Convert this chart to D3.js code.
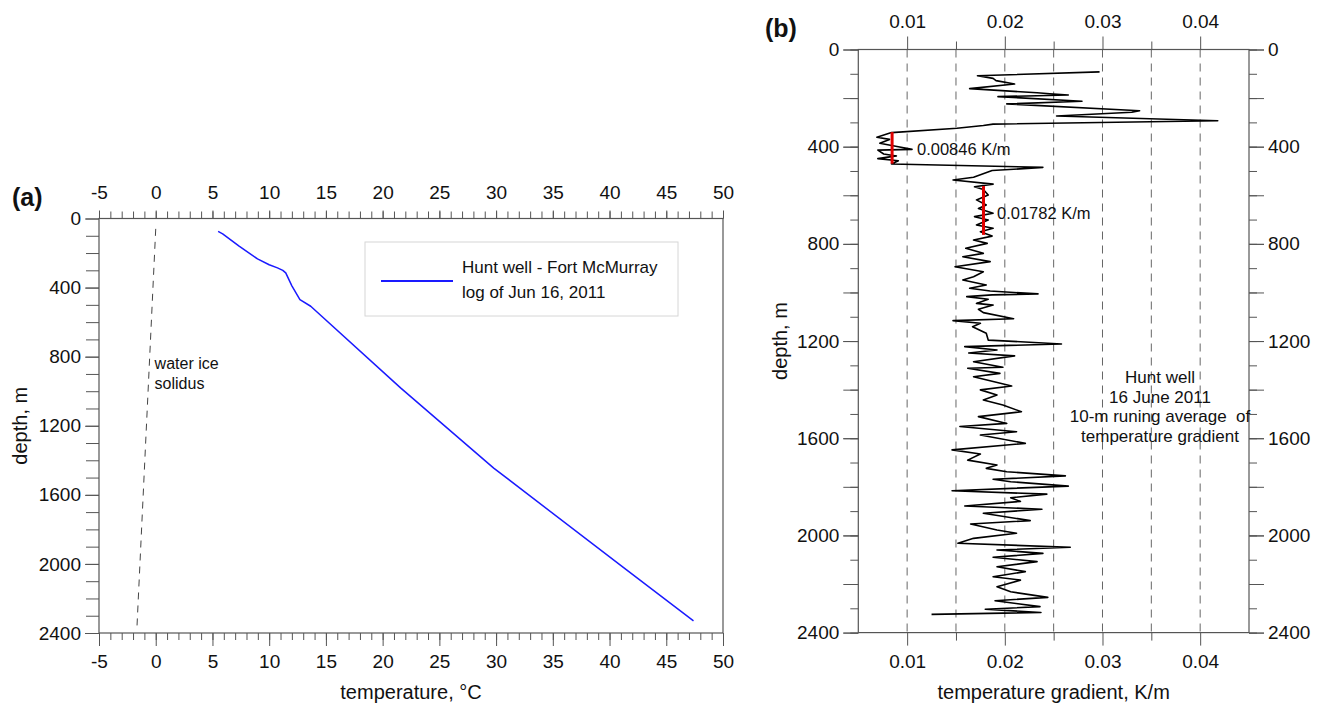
<!DOCTYPE html>
<html>
<head>
<meta charset="utf-8">
<script src="https://cdn.jsdelivr.net/npm/d3@7"></script>
<style>
  body { margin: 0; background: #fff; }
  svg { font-family: "Liberation Sans", Arial, sans-serif; }
</style>
</head>
<body>
<div id="viz"></div>
<script>

// ---- data ----
// panel (a): temperature log (°C) vs depth (m)
let tempC      = [5.5, 5.9, 7.35, 8.97, 10.0, 10.73, 11.2, 11.46, 12.0, 12.71, 13.66, 21.58, 29.79, 41.5, 47.4]
let tempDepthM = [75, 89, 160, 234, 268, 286, 300, 315, 390, 470, 508, 981, 1445, 2035, 2330]

// water ice solidus
let solidusC      = [0, -1.65]
let solidusDepthM = [60, 2360]

// panel (b): 10-m running average of temperature gradient (K/m) vs depth (m)
let gradDepthM = [92, 108, 119, 128, 142, 161, 178, 182, 187, 194, 213, 224, 252, 258, 274, 293, 307, 313, 324, 342,
  361, 370, 386, 400, 411, 414, 430, 438, 449, 458, 471, 485, 493, 498, 526, 537, 554, 565, 576, 599,
  619, 640, 654, 674, 688, 702, 722, 736, 750, 768, 784, 798, 818, 839, 853, 873, 894, 915, 935, 949,
  969, 983, 994, 1006, 1010, 1017, 1028, 1045, 1052, 1069, 1083, 1108, 1116, 1127, 1141, 1168, 1196, 1212, 1223, 1237,
  1249, 1261, 1285, 1308, 1312, 1333, 1347, 1385, 1401, 1422, 1443, 1463, 1491, 1511, 1539, 1552, 1573, 1587, 1621, 1648,
  1665, 1690, 1710, 1724, 1738, 1755, 1769, 1779, 1797, 1816, 1830, 1845, 1860, 1879, 1892, 1909, 1939, 1953, 1978, 1991,
  2012, 2032, 2049, 2060, 2074, 2090, 2108, 2129, 2149, 2170, 2184, 2211, 2232, 2255, 2269, 2293, 2304, 2317, 2325]
let gradKm = [0.0297, 0.0172, 0.0188, 0.0191, 0.0210, 0.0164, 0.0233, 0.0246, 0.0265, 0.0193, 0.0279, 0.0202, 0.0338, 0.0330, 0.0253, 0.0418, 0.0188, 0.0178, 0.0151, 0.0084,
  0.0069, 0.0082, 0.0072, 0.0091, 0.0105, 0.0070, 0.0076, 0.0089, 0.0070, 0.0091, 0.0084, 0.0239, 0.0209, 0.0187, 0.0168, 0.0147, 0.0188, 0.0169, 0.0178, 0.0183,
  0.0171, 0.0181, 0.0173, 0.0188, 0.0169, 0.0183, 0.0171, 0.0188, 0.0175, 0.0187, 0.0168, 0.0182, 0.0160, 0.0178, 0.0157, 0.0185, 0.0149, 0.0178, 0.0168, 0.0157,
  0.0181, 0.0164, 0.0185, 0.0234, 0.0187, 0.0161, 0.0183, 0.0171, 0.0188, 0.0173, 0.0178, 0.0209, 0.0147, 0.0175, 0.0167, 0.0181, 0.0183, 0.0258, 0.0159, 0.0192,
  0.0163, 0.0210, 0.0168, 0.0198, 0.0162, 0.0195, 0.0168, 0.0207, 0.0175, 0.0192, 0.0178, 0.0198, 0.0217, 0.0173, 0.0202, 0.0154, 0.0212, 0.0175, 0.0221, 0.0146,
  0.0175, 0.0162, 0.0192, 0.0181, 0.0202, 0.0262, 0.0188, 0.0206, 0.0265, 0.0146, 0.0243, 0.0206, 0.0216, 0.0159, 0.0238, 0.0178, 0.0226, 0.0165, 0.0192, 0.0212,
  0.0168, 0.0152, 0.0267, 0.0192, 0.0239, 0.0188, 0.0233, 0.0192, 0.0221, 0.0188, 0.0216, 0.0192, 0.0206, 0.0244, 0.0190, 0.0236, 0.0180, 0.0237, 0.0125]

// linear fits (red bars)
let fitGrad   = [0.00846, 0.01782]
let fitTopM   = [340, 562]
let fitBaseM  = [470, 763]
let fitLabels = ['0.00846 K/m', '0.01782 K/m']

// ticks
let tempTicks      = d3.range(-5, 51, 5)
let tempMinorTicks = d3.range(-5, 51, 1)
let depthTicks      = [0, 400, 800, 1200, 1600, 2000, 2400]
let depthMinorTicks = d3.range(0, 2401, 100)
let depthMidTicks   = d3.range(0, 2401, 200)
let gradTicks      = [0.01, 0.02, 0.03, 0.04]
let gradMinorTicks = [0.015, 0.025, 0.035]
let gradGrid       = [0.01, 0.015, 0.02, 0.025, 0.03, 0.035, 0.04]

// ---- layout ----
let W = 1327, H = 706
let A = {left: 99, right: 723, top: 218.5, bottom: 633}
let B = {left: 858.3, right: 1249, top: 49.5, bottom: 632.6}
let axisColor = '#555'
let tickFont = 19

let svg = d3.select('#viz')
  .append('svg')
  .attr('width', W)
  .attr('height', H)

// scales
let xA = d3.scaleLinear().domain([-5, 50]).range([A.left, A.right])
let yA = d3.scaleLinear().domain([0, 2400]).range([A.top, A.bottom])
let xB = d3.scaleLinear().domain([0.005, 0.045]).range([B.left, B.right])
let yB = d3.scaleLinear().domain([0, 2400]).range([B.top, B.bottom])

//helper: labelled major ticks + unlabelled minor ticks (+ optional mid ticks)
function drawAxis(x, y, axisFn, scale, major, bigLen, pad, fmt, minor, smallLen, mid, midLen) {
  let g = svg.append('g').attr('transform', `translate(${x},${y})`)
  if (minor) {
    g.append('g').call(axisFn(scale).tickValues(minor).tickSize(smallLen).tickFormat(''))
  }
  if (mid) {
    g.append('g').call(axisFn(scale).tickValues(mid).tickSize(midLen).tickFormat(''))
  }
  let m = g.append('g').call(axisFn(scale).tickValues(major).tickSize(bigLen).tickPadding(pad).tickFormat(fmt))
  g.selectAll('.domain').remove()
  g.selectAll('line').attr('stroke', axisColor)
  g.selectAll('g').attr('font-size', tickFont).attr('font-family', null)
  m.selectAll('text').attr('fill', '#111')
  return g
}

let plain = d => String(d)

// ================= panel (a) =================
svg.append('rect')
  .attr('x', A.left).attr('y', A.top)
  .attr('width', A.right - A.left).attr('height', A.bottom - A.top)
  .attr('fill', 'none').attr('stroke', axisColor).attr('stroke-width', 1.2)

drawAxis(0, A.top, d3.axisTop, xA, tempTicks, 8, 12, plain, tempMinorTicks, 7)
drawAxis(0, A.bottom, d3.axisBottom, xA, tempTicks, 13, 9, plain, tempMinorTicks, 7)
drawAxis(A.left, 0, d3.axisLeft, yA, depthTicks, 14, 4, plain, depthMinorTicks, 13)

// solidus
svg.append('path')
  .datum(solidusC.map((t, i) => [t, solidusDepthM[i]]))
  .attr('d', d3.line().x(d => xA(d[0])).y(d => yA(d[1])))
  .attr('fill', 'none')
  .attr('stroke', '#444')
  .attr('stroke-width', 1)
  .attr('stroke-dasharray', '7,6')

svg.append('text').attr('x', xA(-0.1)).attr('y', 369)
  .attr('font-size', 16).attr('fill', '#111').text('water ice')
svg.append('text').attr('x', xA(-0.1)).attr('y', 389)
  .attr('font-size', 16).attr('fill', '#111').text('solidus')

// temperature log
svg.append('path')
  .datum(tempC.map((t, i) => [t, tempDepthM[i]]))
  .attr('d', d3.line().x(d => xA(d[0])).y(d => yA(d[1])))
  .attr('fill', 'none')
  .attr('stroke', '#1a1aff')
  .attr('stroke-width', 1.5)
  .attr('stroke-linejoin', 'round')

// legend
let leg = svg.append('g').attr('transform', 'translate(365,242)')
leg.append('rect').attr('width', 313).attr('height', 74)
  .attr('fill', '#fff').attr('stroke', '#d6d6d6')
leg.append('line').attr('x1', 16).attr('x2', 88).attr('y1', 39).attr('y2', 39)
  .attr('stroke', '#1a1aff').attr('stroke-width', 2)
leg.append('text').attr('x', 97).attr('y', 31).attr('font-size', 17).attr('fill', '#111')
  .text('Hunt well - Fort McMurray')
leg.append('text').attr('x', 97).attr('y', 56).attr('font-size', 17).attr('fill', '#111')
  .text('log of Jun 16, 2011')

// titles
svg.append('text').attr('x', 12).attr('y', 206)
  .attr('font-size', 25).attr('font-weight', 'bold').attr('fill', '#111').text('(a)')
svg.append('text').attr('x', (A.left + A.right) / 2).attr('y', 699)
  .attr('text-anchor', 'middle').attr('font-size', 20).attr('fill', '#111')
  .text('temperature, °C')
svg.append('text')
  .attr('transform', `translate(27,${(A.top + A.bottom) / 2}) rotate(-90)`)
  .attr('text-anchor', 'middle').attr('font-size', 20).attr('fill', '#111')
  .text('depth, m')

// ================= panel (b) =================
// dashed grid
svg.append('g').selectAll('line')
  .data(gradGrid)
  .enter()
  .append('line')
  .attr('x1', d => xB(d)).attr('x2', d => xB(d))
  .attr('y1', B.top).attr('y2', B.bottom)
  .attr('stroke', '#666')
  .attr('stroke-width', 1)
  .attr('stroke-dasharray', '8,6')

svg.append('rect')
  .attr('x', B.left).attr('y', B.top)
  .attr('width', B.right - B.left).attr('height', B.bottom - B.top)
  .attr('fill', 'none').attr('stroke', axisColor).attr('stroke-width', 1.2)

drawAxis(0, B.top, d3.axisTop, xB, gradTicks, 13, 9, d3.format('.2f'), gradMinorTicks, 8)
drawAxis(0, B.bottom, d3.axisBottom, xB, gradTicks, 13, 9, d3.format('.2f'), gradMinorTicks, 8)
drawAxis(B.left, 0, d3.axisLeft, yB, depthTicks, 15, 4, plain, depthMinorTicks, 8, depthMidTicks, 15)
drawAxis(B.right, 0, d3.axisRight, yB, depthTicks, 15, 4, plain, depthMinorTicks, 8, depthMidTicks, 15)

// gradient curve
svg.append('path')
  .datum(gradKm.map((g, i) => [g, gradDepthM[i]]))
  .attr('d', d3.line().x(d => xB(d[0])).y(d => yB(d[1])))
  .attr('fill', 'none')
  .attr('stroke', '#000')
  .attr('stroke-width', 1.6)
  .attr('stroke-linejoin', 'round')

// fits
svg.append('g').selectAll('line')
  .data(fitGrad)
  .enter()
  .append('line')
  .attr('x1', d => xB(d)).attr('x2', d => xB(d))
  .attr('y1', (d, i) => yB(fitTopM[i]))
  .attr('y2', (d, i) => yB(fitBaseM[i]))
  .attr('stroke', '#e00000')
  .attr('stroke-width', 3)

svg.append('text').attr('x', 917).attr('y', 155)
  .attr('font-size', 16.5).attr('fill', '#111').text(fitLabels[0])
svg.append('text').attr('x', 997).attr('y', 219)
  .attr('font-size', 16.5).attr('fill', '#111').text(fitLabels[1])

// annotation
let note = ['Hunt well', '16 June 2011', '10-m runing average  of', 'temperature gradient']
svg.append('g').selectAll('text')
  .data(note)
  .enter()
  .append('text')
  .attr('x', 1160)
  .attr('y', (d, i) => 383 + i * 19.5)
  .attr('text-anchor', 'middle')
  .attr('font-size', 17)
  .attr('fill', '#111')
  .style('white-space', 'pre')
  .text(d => d)

// titles
svg.append('text').attr('x', 765).attr('y', 37)
  .attr('font-size', 25).attr('font-weight', 'bold').attr('fill', '#111').text('(b)')
svg.append('text').attr('x', (B.left + B.right) / 2).attr('y', 699)
  .attr('text-anchor', 'middle').attr('font-size', 20).attr('fill', '#111')
  .text('temperature gradient, K/m')
svg.append('text')
  .attr('transform', `translate(787,${(B.top + B.bottom) / 2}) rotate(-90)`)
  .attr('text-anchor', 'middle').attr('font-size', 20).attr('fill', '#111')
  .text('depth, m')

</script>
</body>
</html>
